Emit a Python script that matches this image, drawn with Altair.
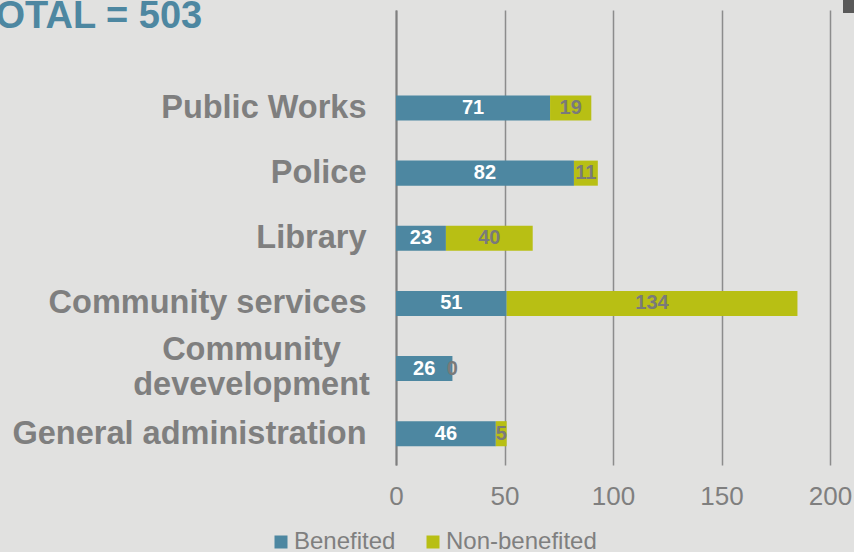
import altair as alt
import pandas as pd

categories = ["Public Works", "Police", "Library", "Community services",
              "Community devevelopment", "General administration"]
benefited = [71, 82, 23, 51, 26, 46]
non_benefited = [19, 11, 40, 134, 0, 5]
series = ["Benefited", "Non-benefited"]
x_ticks = [0, 50, 100, 150, 200]

rows = []
for c, b, n in zip(categories, benefited, non_benefited):
    rows.append({"category": c, "series": series[0], "value": b, "order": 0})
    rows.append({"category": c, "series": series[1], "value": n, "order": 1})
df = pd.DataFrame(rows)

FONT = "Liberation Sans"
GRAY = "#7f7f7f"
BLUE = "#4d87a1"
OLIVE = "#b8bf14"

IS_CD = "datum.label == 'Community devevelopment'"

y_enc = alt.Y(
    "category:N", sort=categories, title=None,
    scale=alt.Scale(paddingInner=0.615, paddingOuter=0.8, align=0.82),
    axis=alt.Axis(
        labelFont=FONT, labelFontSize=32.5, labelFontWeight="bold", labelColor=GRAY,
        ticks=False, domain=True, domainColor="#7f7f7f", domainWidth=2,
        labelLineHeight=35, labelLimit=500,
        labelPadding={"condition": {"test": IS_CD, "value": 145}, "value": 30},
        labelAlign={"condition": {"test": IS_CD, "value": "center"}, "value": "right"},
        labelOffset={"condition": {"test": IS_CD, "value": -19}, "value": 0},
        labelExpr=IS_CD + " ? ['Community', 'devevelopment'] : datum.label",
    ),
)

x_scale = alt.Scale(domain=[0, 200], nice=False)

bars = alt.Chart(df).mark_bar().encode(
    x=alt.X("value:Q", stack="zero", scale=x_scale, title=None,
            axis=alt.Axis(values=x_ticks, grid=True, gridColor="#8c8c8c", gridWidth=1.5,
                          domain=False, ticks=False, labelFont=FONT, labelFontSize=26,
                          labelColor=GRAY, labelPadding=18, labelFlush=False)),
    y=y_enc,
    color=alt.Color("series:N", scale=alt.Scale(domain=series, range=[BLUE, OLIVE]),
                    legend=alt.Legend(title=None, orient="none", direction="horizontal",
                                      legendX=-127, legendY=520, symbolType="square",
                                      symbolSize=169, symbolStrokeWidth=0,
                                      labelFont=FONT, labelFontSize=24, labelColor=GRAY,
                                      labelOffset=1, columnPadding=25)),
    order=alt.Order("order:Q"),
)

base_text = alt.Chart(df).transform_stack(
    stack="value", groupby=["category"], sort=[alt.SortField("order")], as_=["x0", "x1"]
).transform_calculate(mid="(datum.x0 + datum.x1) / 2")

text_b = base_text.transform_filter(alt.datum.series == series[0]).mark_text(
    font=FONT, fontSize=20, fontWeight="bold", color="white"
).encode(x=alt.X("mid:Q", scale=x_scale), y=alt.Y("category:N", sort=categories), text="value:Q")

text_n = base_text.transform_filter(alt.datum.series == series[1]).mark_text(
    font=FONT, fontSize=20, fontWeight="bold", color="#7a7a7a"
).encode(x=alt.X("mid:Q", scale=x_scale), y=alt.Y("category:N", sort=categories), text="value:Q")

corner = alt.Chart(pd.DataFrame({"k": [0]})).mark_rect(color="#595959").encode(
    x=alt.value(447), x2=alt.value(460), y=alt.value(-10), y2=alt.value(3)
)

chart = alt.layer(bars, text_b, text_n, corner).properties(
    width=434, height=455,
    autosize=alt.AutoSizeParams(type="none"),
    padding={"left": 396, "top": 10, "right": 24, "bottom": 87},
    background="#e1e1e0",
    title=alt.TitleParams("TOTAL = 503", anchor="start", frame="group", dx=-423, dy=66,
                          offset=0, baseline="alphabetic", fontSize=38, fontWeight="bold",
                          color=BLUE, font=FONT),
).configure_view(stroke=None)

chart.save("out.html", embed_options={"renderer": "svg", "actions": False})
